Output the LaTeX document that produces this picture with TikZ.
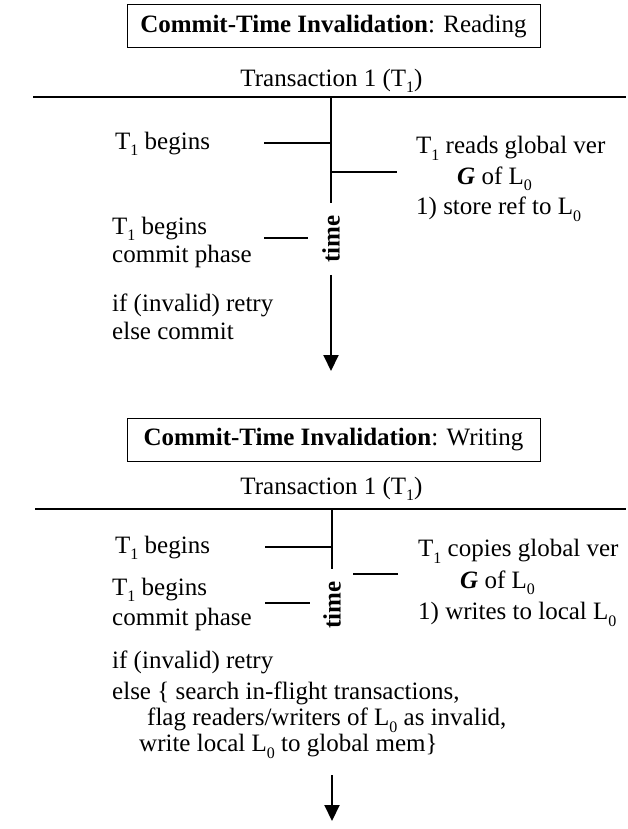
\documentclass[tikz,border=0pt]{standalone}
\usepackage{fontspec}
\setmainfont{Liberation Serif}
\usetikzlibrary{positioning,arrows.meta}
\newcommand{\lsub}[1]{\raisebox{-0.26em}{\fontsize{16}{16}\selectfont#1}}

\begin{document}
\begin{tikzpicture}[x=1pt, y=-1pt, >={Triangle[width=15pt,length=16pt]},
    font=\fontsize{25}{30}\selectfont,
    title/.style={draw, line width=1pt, minimum width=413pt, minimum height=43pt, inner sep=0pt},
    txt/.style={anchor=west, align=left, inner sep=0pt},
    tick/.style={line width=1.2pt},
    axis/.style={line width=2pt},
    clock/.style={rotate=90, font=\fontsize{25}{30}\selectfont\bfseries,
                  inner xsep=12pt, inner ysep=0pt}]
  \useasboundingbox (0,0) rectangle (628,829);

  % reading
  \node[title] (h1) at (333.5,26.5) {\textbf{Commit-Time Invalidation}: Reading};
  \node[inner sep=0pt] (n1) at (331.5,81) {Transaction 1 (T\lsub{1})};
  \coordinate (a1) at (33,97);  \coordinate (b1) at (626,97);
  \coordinate (c1) at (331,97); \coordinate (e1) at (331,371);
  \draw[tick] (a1) -- (b1);
  \node[clock] (t1) at (331,239) {time};
  \draw[axis] (c1) -- (t1.east);
  \draw[axis,->] (t1.west) -- (e1);

  \node[txt] (p1) at (115,144) {T\lsub{1} begins};
  \node[txt, font=\fontsize{25}{30.5}\selectfont] (q1) at (416,179)
    {T\lsub{1} reads global ver\\\hspace*{41pt}\textbf{\textit{G}} of L\lsub{0}\\1) store ref to L\lsub{0}};
  \node[txt, font=\fontsize{25}{28}\selectfont] (r1) at (112,242) {T\lsub{1} begins\\commit phase};
  \node[txt, font=\fontsize{25}{28}\selectfont] (s1) at (112,317) {if (invalid) retry\\else commit};

  \coordinate (k1) at (264,143); \coordinate (k2) at (397,172); \coordinate (k3) at (264,238);
  \draw[tick] (k1) -- (k1 -| c1);
  \draw[tick] (k2 -| c1) -- (k2);
  \draw[tick] (k3) -- ++(44,0);

  % writing
  \node[title] (h2) at (333.5,440) {\textbf{Commit-Time Invalidation}: Writing};
  \node[inner sep=0pt] (n2) at (331.5,489) {Transaction 1 (T\lsub{1})};
  \coordinate (a2) at (35,509);  \coordinate (b2) at (626,509);
  \coordinate (c2) at (332,509); \coordinate (e2) at (332,821);
  \draw[tick] (a2) -- (b2);
  \node[clock] (t2) at (332,605) {time};
  \draw[axis] (c2) -- (t2.east);

  \node[txt] (p2) at (115,548) {T\lsub{1} begins};
  \node[txt, font=\fontsize{25}{31.5}\selectfont] (q2) at (418,583)
    {T\lsub{1} copies global ver\\\hspace*{42pt}\textbf{\textit{G}} of L\lsub{0}\\1) writes to local L\lsub{0}};
  \node[txt, font=\fontsize{25}{30}\selectfont] (r2) at (112,604) {T\lsub{1} begins\\commit phase};
  \node[txt, font=\fontsize{25}{26}\selectfont] (s2) at (112,705)
    {if (invalid) retry\\[5pt]else \{ search in-flight transactions,\\\hspace*{35pt}flag readers/writers of L\lsub{0} as invalid,\\\hspace*{27pt}write local L\lsub{0} to global mem\}};

  \coordinate (k4) at (265,547); \coordinate (k5) at (398,574); \coordinate (k6) at (265,603);
  \coordinate (d2) at (332,775);
  \draw[tick] (k4) -- (k4 -| c2);
  \draw[tick] (k5) -- ++(-45,0);
  \draw[tick] (k6) -- ++(45,0);
  \draw[axis,->] (d2) -- (e2);
\end{tikzpicture}
\end{document}
